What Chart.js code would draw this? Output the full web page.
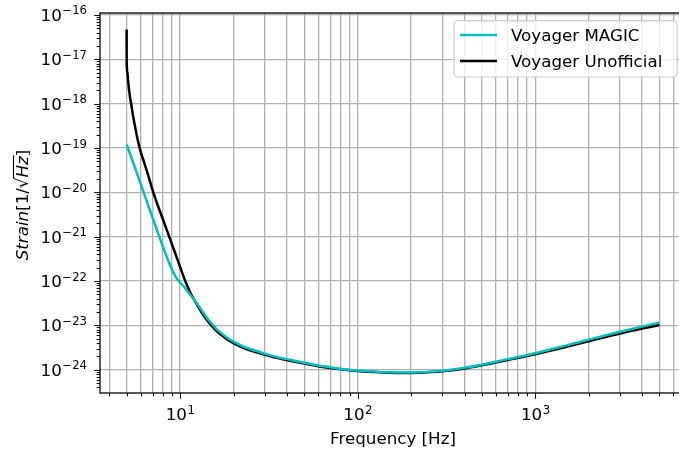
<!DOCTYPE html>
<html><head><meta charset="utf-8">
<script src="https://cdn.jsdelivr.net/npm/chart.js@4.4.0/dist/chart.umd.min.js"></script>
<style>
html,body{margin:0;padding:0;overflow:hidden;background:#fff;width:679px;height:452px}
#wrap{position:absolute;left:0;top:0;width:688px;height:452px}
</style>
</head><body><div id="wrap"><canvas id="c"></canvas></div>
<script>
// ---- data ----
const freqUnofficial = [5, 5.005, 5.05, 5.1, 5.2, 5.3, 5.45, 5.6, 5.8, 6.0, 6.3, 6.6, 7.0, 7.5, 8.0, 8.6, 9.3, 10, 10.7, 11.5, 12.1, 13, 14, 15, 16, 17, 18.5, 20, 22.5, 25, 30, 35, 40, 50, 60, 70, 85, 100, 125, 150, 180, 220, 260, 300, 400, 500, 700, 1000, 1500, 2000, 3000, 4000, 5000];
const strainUnofficial = [4.7e-17, 8.9e-18, 5.0e-18, 3.2e-18, 1.6e-18, 1.0e-18, 5.0e-19, 2.8e-19, 1.4e-19, 8.3e-20, 4.5e-20, 2.5e-20, 1.12e-20, 5.0e-21, 2.5e-21, 1.12e-21, 4.7e-22, 2.1e-22, 1.0e-22, 5.2e-23, 3.6e-23, 2.2e-23, 1.41e-23, 1.0e-23, 7.6e-24, 6.2e-24, 4.8e-24, 4.0e-24, 3.16e-24, 2.7e-24, 2.2e-24, 1.86e-24, 1.66e-24, 1.38e-24, 1.2e-24, 1.1e-24, 1.0e-24, 9.4e-25, 8.9e-25, 8.6e-25, 8.5e-25, 8.6e-25, 8.9e-25, 9.3e-25, 1.07e-24, 1.26e-24, 1.66e-24, 2.24e-24, 3.3e-24, 4.4e-24, 6.6e-24, 8.5e-24, 1.02e-23];
const freqMagic = [5, 5.5, 6.0, 6.5, 7.0, 7.5, 8.0, 8.5, 9.0, 9.5, 10, 10.5, 11, 12, 13, 14, 15, 16, 17, 18.5, 20, 22.5, 25, 30, 35, 40, 50, 60, 70, 85, 100, 125, 150, 180, 220, 260, 300, 400, 500, 700, 1000, 1500, 2000, 3000, 4000, 5000];
const strainMagic = [1.2e-19, 4.2e-20, 1.55e-20, 6.2e-21, 2.7e-21, 1.23e-21, 6.0e-22, 3.16e-22, 1.82e-22, 1.2e-22, 9.3e-23, 7.6e-23, 5.9e-23, 3.8e-23, 2.45e-23, 1.58e-23, 1.12e-23, 8.4e-24, 6.8e-24, 5.2e-24, 4.3e-24, 3.4e-24, 2.9e-24, 2.32e-24, 1.95e-24, 1.74e-24, 1.44e-24, 1.25e-24, 1.14e-24, 1.02e-24, 9.7e-25, 9.1e-25, 8.8e-25, 8.7e-25, 8.8e-25, 9.1e-25, 9.5e-25, 1.11e-24, 1.3e-24, 1.74e-24, 2.37e-24, 3.55e-24, 4.8e-24, 7.2e-24, 9.4e-24, 1.17e-23];
const seriesLabels = ['Voyager MAGIC', 'Voyager Unofficial'];
const seriesColors = ['#00bfbf', '#000000'];
const xMajorTicks = [10, 100, 1000];
const xTickExponents = ['1', '2', '3'];
const yMajorTicks = [1e-16, 1e-17, 1e-18, 1e-19, 1e-20, 1e-21, 1e-22, 1e-23, 1e-24];
const yTickExponents = ['\u221216', '\u221217', '\u221218', '\u221219', '\u221220', '\u221221', '\u221222', '\u221223', '\u221224'];
const xAxisTitle = 'Frequency [Hz]';
const xMin = Math.pow(10, 0.549), xMax = Math.pow(10, 3.849);
const yMin = Math.pow(10, -24.456), yMax = Math.pow(10, -15.955);

const FONT = '"DejaVu Sans"';
const FS = 16.7, SS = 11.7;

function logTicks(min, max) {
  const out = [];
  const k0 = Math.floor(Math.log10(min)), k1 = Math.ceil(Math.log10(max));
  for (let k = k0; k <= k1; k++) {
    for (let m = 1; m <= 9; m++) {
      const v = m * Math.pow(10, k);
      if (v >= min && v <= max) out.push({value: v, major: m === 1});
    }
  }
  return out;
}

const decor = {
  id: 'decor',
  afterDraw(chart) {
    const ctx = chart.ctx, a = chart.chartArea, xs = chart.scales.x, ys = chart.scales.y;
    ctx.save();
    // spines
    ctx.strokeStyle = '#000'; ctx.lineWidth = 1.3;
    ctx.strokeRect(a.left, a.top, a.right - a.left, a.bottom - a.top);
    // tick marks
    ctx.lineWidth = 1.1;
    ctx.beginPath();
    for (const t of xs.ticks) {
      const px = Math.round(xs.getPixelForValue(t.value)) + 0.5;
      ctx.moveTo(px, a.bottom); ctx.lineTo(px, a.bottom + (t.major ? 5.8 : 3.3));
    }
    for (const t of ys.ticks) {
      const py = Math.round(ys.getPixelForValue(t.value)) + 0.5;
      ctx.moveTo(a.left, py); ctx.lineTo(a.left - (t.major ? 5.8 : 3.3), py);
    }
    ctx.stroke();
    // tick labels
    ctx.fillStyle = '#000';
    ctx.textBaseline = 'alphabetic';
    ctx.textAlign = 'left';
    xMajorTicks.forEach((v, i) => {
      const px = xs.getPixelForValue(v);
      ctx.font = FS + 'px ' + FONT;
      const w1 = ctx.measureText('10').width;
      ctx.font = SS + 'px ' + FONT;
      const w2 = ctx.measureText(xTickExponents[i]).width;
      const x0 = px - (w1 + w2) / 2;
      ctx.font = FS + 'px ' + FONT;
      ctx.fillText('10', x0, a.bottom + 27);
      ctx.font = SS + 'px ' + FONT;
      ctx.fillText(xTickExponents[i], x0 + w1 + 0.5, a.bottom + 20.5);
    });
    yMajorTicks.forEach((v, i) => {
      const py = ys.getPixelForValue(v);
      ctx.font = SS + 'px ' + FONT;
      const w2 = ctx.measureText(yTickExponents[i]).width;
      ctx.font = FS + 'px ' + FONT;
      const w1 = ctx.measureText('10').width;
      const xr = a.left - 13;
      ctx.fillText('10', xr - w2 - w1 - 0.5, py + 6);
      ctx.font = SS + 'px ' + FONT;
      ctx.fillText(yTickExponents[i], xr - w2, py - 0.5);
    });
    // x title
    ctx.font = FS + 'px ' + FONT;
    ctx.textAlign = 'center';
    ctx.fillText(xAxisTitle, (a.left + a.right) / 2, 443.5);
    // y title (rotated, mathtext-like)
    ctx.save();
    ctx.translate(28, (a.top + a.bottom) / 2 + 2);
    ctx.rotate(-Math.PI / 2);
    ctx.textAlign = 'left';
    const segs = [
      {t: 'Strain', f: 'italic ' + FS + 'px ' + FONT},
      {t: '[1/', f: FS + 'px ' + FONT},
      {t: '\u221A', f: FS + 'px ' + FONT},
      {t: 'Hz', f: 'italic ' + FS + 'px ' + FONT, over: true},
      {t: ']', f: FS + 'px ' + FONT}
    ];
    let tot = 0;
    segs.forEach(s => { ctx.font = s.f; s.w = ctx.measureText(s.t).width; tot += s.w; });
    let x = -tot / 2;
    segs.forEach(s => {
      ctx.font = s.f;
      ctx.fillText(s.t, x, 0);
      if (s.over) {
        ctx.lineWidth = 1.1;
        ctx.beginPath(); ctx.moveTo(x - 1, -14.5); ctx.lineTo(x + s.w + 1, -14.5); ctx.stroke();
      }
      x += s.w;
    });
    ctx.restore();
    // legend
    const lx = 454, ly = 20.7, lw = 223, lh = 56.3;
    ctx.beginPath();
    ctx.roundRect(lx, ly, lw, lh, 4);
    ctx.fillStyle = 'rgba(255,255,255,0.8)';
    ctx.fill();
    ctx.strokeStyle = '#cccccc'; ctx.lineWidth = 1.2; ctx.stroke();
    ctx.textAlign = 'left';
    ctx.font = FS + 'px ' + FONT;
    seriesLabels.forEach((lab, i) => {
      const yy = 35 + i * 26;
      ctx.strokeStyle = seriesColors[i]; ctx.lineWidth = 2.5;
      ctx.beginPath(); ctx.moveTo(460, yy); ctx.lineTo(497, yy); ctx.stroke();
      ctx.fillStyle = '#000';
      ctx.fillText(lab, 511, yy + 6.3);
    });
    ctx.restore();
  }
};

const ds = [
  {label: seriesLabels[0], data: freqMagic.map((f, i) => ({x: f, y: strainMagic[i]})), borderColor: seriesColors[0]},
  {label: seriesLabels[1], data: freqUnofficial.map((f, i) => ({x: f, y: strainUnofficial[i]})), borderColor: seriesColors[1]}
].map(d => Object.assign(d, {borderWidth: 2.5, pointRadius: 0, fill: false, cubicInterpolationMode: 'monotone', borderJoinStyle: 'round'}));

new Chart(document.getElementById('c'), {
  type: 'line',
  data: {datasets: ds},
  options: {
    responsive: true, maintainAspectRatio: false, animation: false,
    layout: {padding: {left: 100, top: 13, right: 2, bottom: 59}},
    plugins: {legend: {display: false}, tooltip: {enabled: false}},
    scales: {
      x: {
        type: 'logarithmic', min: xMin, max: xMax,
        afterBuildTicks: s => { s.ticks = logTicks(xMin, xMax); },
        afterFit: s => { s.height = 0; },
        ticks: {display: false},
        grid: {color: '#b0b0b0', lineWidth: 1.3, drawTicks: false},
        border: {display: false}
      },
      y: {
        type: 'logarithmic', min: yMin, max: yMax,
        afterBuildTicks: s => { s.ticks = logTicks(yMin, yMax); },
        afterFit: s => { s.width = 0; },
        ticks: {display: false},
        grid: {color: c => (c.tick && c.tick.major) ? '#b0b0b0' : 'rgba(0,0,0,0)', lineWidth: 1.3, drawTicks: false},
        border: {display: false}
      }
    }
  },
  plugins: [decor]
});
</script>
</body></html>
